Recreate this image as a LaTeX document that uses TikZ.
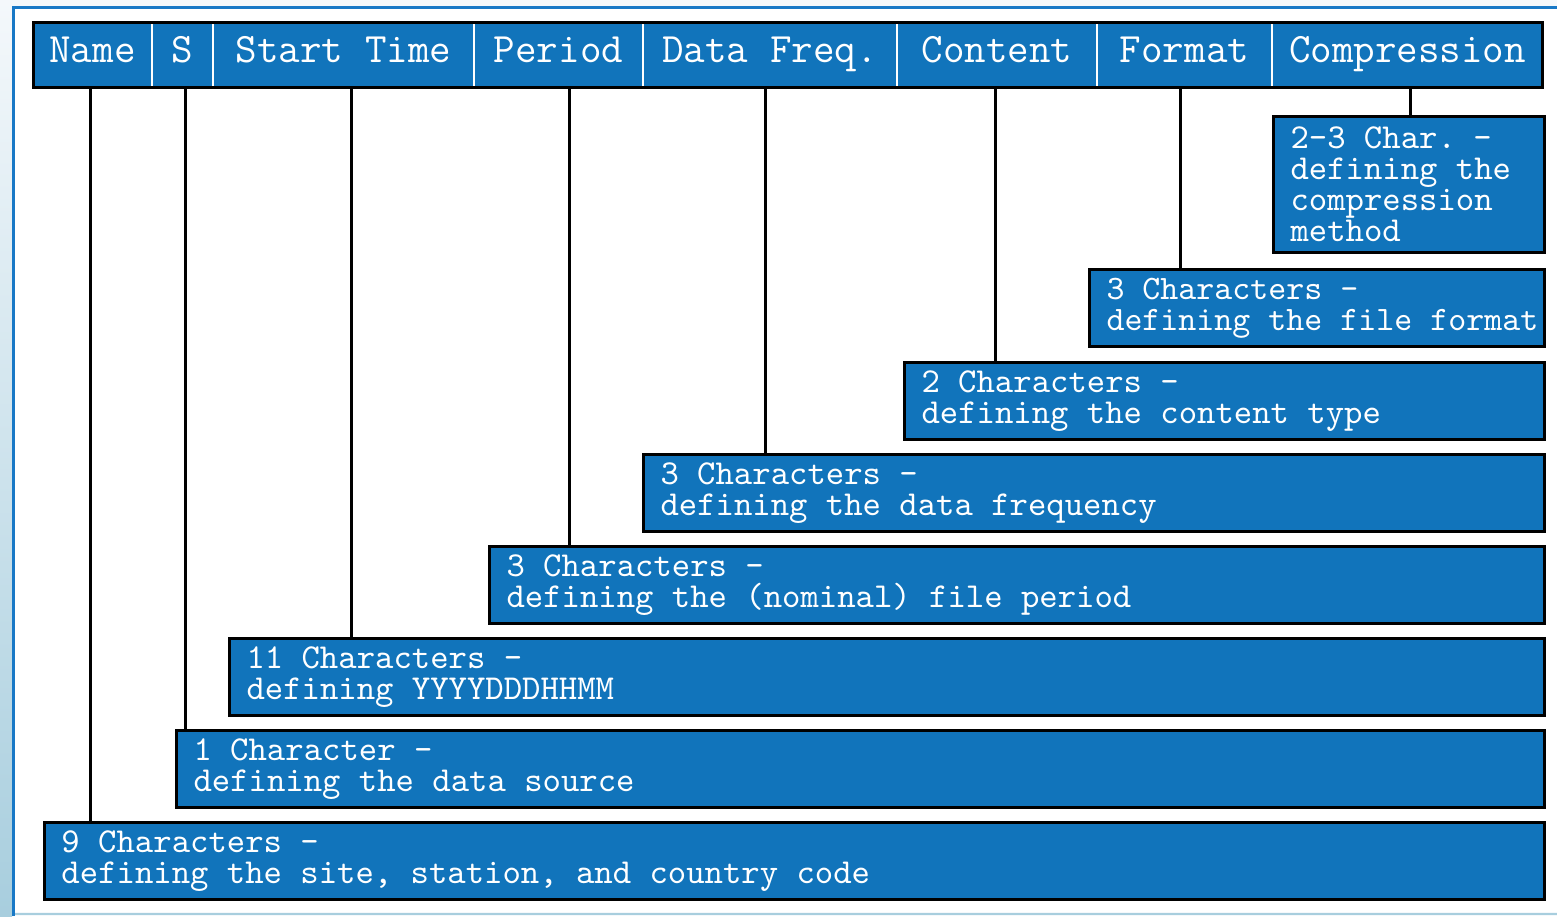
\documentclass[tikz,border=0pt]{standalone}
\usepackage{fontspec}
\usetikzlibrary{positioning}

\definecolor{fieldblue}{RGB}{17,116,187}
\definecolor{frameblue}{RGB}{24,120,198}
\definecolor{paleback}{RGB}{244,248,251}
\definecolor{edgeblue}{RGB}{168,206,222}

\newcommand\headfont{\ttfamily\fontsize{11.9}{12}\selectfont\spaceskip=0.525em plus 0pt minus 0pt\relax}
\newcommand\fieldfont{\ttfamily\fontsize{9.96}{8.8}\selectfont}
\newcommand\fixspace{\spaceskip=0.525em plus 0pt minus 0pt\relax}

\tikzset{
  head/.style={fill=fieldblue, text=white, minimum height=6.5mm, inner sep=0pt,
    outer sep=0pt, text height=2.6mm, text depth=1.1mm, anchor=north west,
    font=\headfont},
  field/.style={draw=black, line width=0.3mm, fill=fieldblue, text=white,
    anchor=north west, minimum height=7.7mm, inner xsep=1.7mm, inner ysep=0pt,
    align=left, text width=#1, font=\fieldfont, execute at begin node=\fixspace},
  link/.style={line width=0.3mm}
}

\begin{document}
\begin{tikzpicture}[x=0.1mm, y=-0.1mm]
  \useasboundingbox (0,0) rectangle (1557,916);

  % Hintergrund und Rahmen
  \fill[paleback] (0,0) rectangle (1557,916);
  \shade[top color=paleback, bottom color=edgeblue] (0,0) rectangle (12,916);
  \fill[white] (13,8) rectangle (1557,912);
  \draw[frameblue, line width=0.3mm] (1557,7.5) -- (13.5,7.5) -- (13.5,916);
  \draw[edgeblue, line width=0.2mm] (15,913.5) -- (1557,913.5);

  % Kopfzeile mit den Feldern
  \node[head, minimum width=11.9mm] (name) at (33,22) {Name};
  \node[head, minimum width=6.1mm, right=0pt of name] (s) {S};
  \node[head, minimum width=26.1mm, right=0pt of s] (start) {Start Time};
  \node[head, minimum width=16.9mm, right=0pt of start] (period) {Period};
  \node[head, minimum width=25.4mm, right=0pt of period] (freq) {Data Freq.};
  \node[head, minimum width=20mm, right=0pt of freq] (content) {Content};
  \node[head, minimum width=17.5mm, right=0pt of content] (format) {Format};
  \node[head, minimum width=27.1mm, right=0pt of format] (compr) {Compression};

  % Trennlinien und Umrandung
  \foreach \c in {name,s,start,period,freq,content,format}
    \draw[white, line width=0.25mm] (\c.north east) -- (\c.south east);
  \draw[line width=0.3mm] (name.north west) rectangle (compr.south east);

  % Beschreibungen
  \node[field=23.7mm, minimum height=13.6mm] (comprbox) at (1272,115)
    {2-3 Char. -\\defining the\\compression\\method};
  \node[field=42.1mm, font=\ttfamily\fontsize{9.75}{8.8}\selectfont] (formatbox) at (1088,268)
    {3 Characters -\\\mbox{defining the file format}};
  \node[field=60.6mm] (contentbox) at (903,361)
    {2 Characters -\\defining the content type};
  \node[field=86.7mm] (freqbox) at (642,453)
    {3 Characters -\\defining the data frequency};
  \node[field=102.1mm] (periodbox) at (488,545)
    {3 Characters -\\defining the (nominal) file period};
  \node[field=128.1mm] (startbox) at (228,637)
    {11 Characters -\\defining YYYYDDDHHMM};
  \node[field=133.4mm] (sbox) at (175,729)
    {1 Character -\\defining the data source};
  \node[field=146.6mm] (namebox) at (43,821)
    {9 Characters -\\defining the site, station, and country code};

  % Verbindungslinien
  \foreach \h/\b/\d in {name/namebox/-0.25, s/sbox/0.25, start/startbox/0.75,
                        period/periodbox/1.15, freq/freqbox/-0.4, content/contentbox/-0.1,
                        format/formatbox/-0.35, compr/comprbox/0.35}
    \draw[link] ([xshift=\d mm]\h.south) -- ([xshift=\d mm]\h.south |- \b.north);
\end{tikzpicture}
\end{document}
